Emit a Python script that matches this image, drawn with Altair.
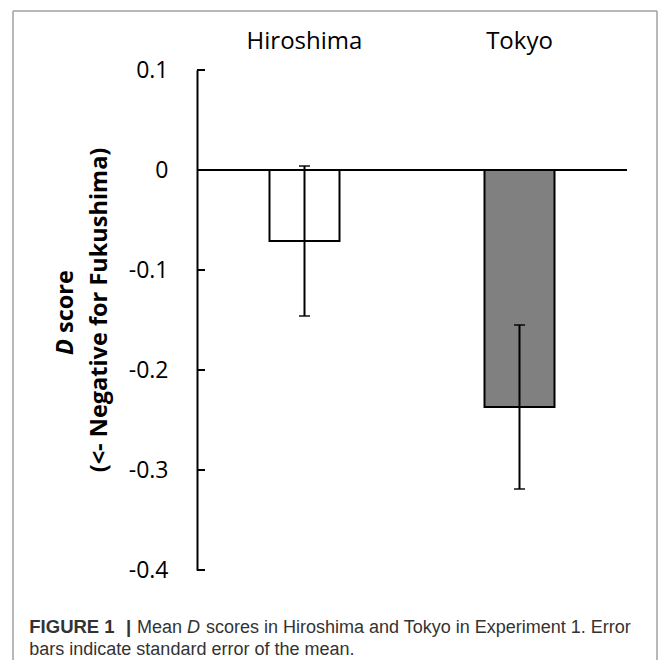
import altair as alt
import pandas as pd

categories = ["Hiroshima", "Tokyo"]
means = [-0.071, -0.237]
err_low = [-0.146, -0.319]
err_high = [0.004, -0.155]
y_ticks = [0.1, 0.0, -0.1, -0.2, -0.3, -0.4]
fills = ["#ffffff", "#808080"]

df = pd.DataFrame({"cat": categories, "mean": means, "lo": err_low, "hi": err_high})
ticks_df = pd.DataFrame({"v": y_ticks})
one = pd.DataFrame({"k": [0]})

W, H = 430, 500
TICK_FONT = "Open Sans"

x_axis = alt.Axis(orient="top", title=None, domain=False, ticks=False,
                  labelFont=TICK_FONT, labelFontSize=24, labelColor="black",
                  labelAngle=0, labelPadding=22, labelBaseline="alphabetic")
x_scale = alt.Scale(domain=categories, paddingInner=0, paddingOuter=0)
y_scale = alt.Scale(domain=[-0.4, 0.1], nice=False, zero=False)
y_axis = alt.Axis(title=None, values=y_ticks, grid=False, ticks=False,
                  domainColor="black", domainWidth=2,
                  labelFont=TICK_FONT, labelFontSize=23, labelColor="black",
                  labelPadding=29, labelExpr="toString(datum.value)")


def X():
    return alt.X("cat:N", sort=categories, scale=x_scale, axis=x_axis)


def Y(field):
    return alt.Y(field, type="quantitative", scale=y_scale, axis=y_axis)


bars = alt.Chart(df).mark_bar(size=70, stroke="black", strokeWidth=2).encode(
    x=X(), y=Y("mean"), y2=alt.datum(0),
    fill=alt.Fill("cat:N", scale=alt.Scale(domain=categories, range=fills), legend=None),
)

zero_line = alt.Chart(one).mark_rule(color="black", strokeWidth=2).encode(
    y=alt.YDatum(0, scale=y_scale, axis=y_axis), x=alt.value(0), x2=alt.value(W)
)

axis_ticks = alt.Chart(ticks_df).mark_rule(color="black", strokeWidth=2).encode(
    y=Y("v"), x=alt.value(0), x2=alt.value(8)
)

err = alt.Chart(df).mark_rule(color="black", strokeWidth=2).encode(
    x=X(), y=Y("lo"), y2="hi:Q"
)
cap_lo = alt.Chart(df).mark_tick(color="black", size=11, thickness=2).encode(x=X(), y=Y("lo"))
cap_hi = alt.Chart(df).mark_tick(color="black", size=11, thickness=2).encode(x=X(), y=Y("hi"))


def txt(text, x, y, **kw):
    return alt.Chart(one).mark_text(text=text, **kw).encode(x=alt.value(x), y=alt.value(y))


YT = 23.5
ytitle = [
    txt("D", -124, 285, font=TICK_FONT, fontSize=YT, fontWeight="bold", fontStyle="italic",
        angle=270, align="left", baseline="alphabetic", color="black"),
    txt("score", -124, 263, font=TICK_FONT, fontSize=YT, fontWeight="bold",
        angle=270, align="left", baseline="alphabetic", color="black"),
    txt("(<- Negative for Fukushima)", -90, 240, font=TICK_FONT, fontSize=YT, fontWeight="bold",
        angle=270, align="center", baseline="alphabetic", color="black"),
]

CAP = "Liberation Sans"
CCOL = "#333333"
L1, L2 = 563, 585
caption = [
    txt("FIGURE 1", -167.7, L1, font=CAP, fontSize=18.5, fontWeight="bold", align="left",
        baseline="alphabetic", color=CCOL),
    txt("|", -71, L1, font=CAP, fontSize=18.5, fontWeight="bold", align="left",
        baseline="alphabetic", color=CCOL),
    txt("Mean", -60, L1, font=CAP, fontSize=18, align="left", baseline="alphabetic", color=CCOL),
    txt("D", -10, L1, font=CAP, fontSize=18, fontStyle="italic", align="left",
        baseline="alphabetic", color=CCOL),
    txt("scores in Hiroshima and Tokyo in Experiment 1. Error", 9, L1, font=CAP, fontSize=18,
        align="left", baseline="alphabetic", color=CCOL),
    txt("bars indicate standard error of the mean.", -167.7, L2, font=CAP, fontSize=18,
        align="left", baseline="alphabetic", color=CCOL),
]

BCOL = "#a0a0a0"
border = [
    alt.Chart(one).mark_rule(color=BCOL, strokeWidth=1.5).encode(
        x=alt.value(-184), y=alt.value(-59), y2=alt.value(620)),
    alt.Chart(one).mark_rule(color=BCOL, strokeWidth=1.5).encode(
        x=alt.value(460), y=alt.value(-59), y2=alt.value(620)),
    alt.Chart(one).mark_rule(color=BCOL, strokeWidth=1.5).encode(
        x=alt.value(-184), x2=alt.value(460), y=alt.value(-59)),
]

chart = alt.layer(
    bars, zero_line, axis_ticks, err, cap_lo, cap_hi, *ytitle, *caption, *border
).properties(
    width=W, height=H,
    background="white",
    autosize=alt.AutoSizeParams(type="none"),
    padding={"left": 189, "top": 62, "right": 31, "bottom": 90},
).configure_view(strokeWidth=0, stroke="transparent")

chart.save("out.html", embed_options={"renderer": "svg", "actions": False})
